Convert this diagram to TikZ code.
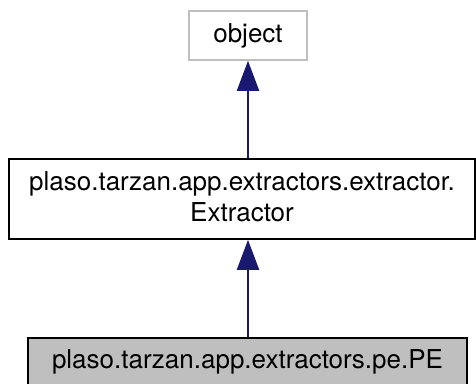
\documentclass[tikz,border=0pt]{standalone}
\usepackage{fontspec}
\setmainfont{TeX Gyre Heros}
\usetikzlibrary{arrows.meta}
\definecolor{edgeblue}{HTML}{191970}
\definecolor{boxgray}{HTML}{BFBFBF}
\begin{document}
\begin{tikzpicture}[x=1pt,y=-1pt,
  cls/.style={draw, line width=1.6pt, inner sep=0pt, font=\fontsize{26}{31}\selectfont, align=center},
  inh/.style={draw=edgeblue, line width=2pt, -{Triangle[width=22pt,length=30pt]}}]
\useasboundingbox (0,0) rectangle (476,383);
\node[cls, draw=boxgray, minimum width=118pt, minimum height=49pt] (obj) at (248,35.5) {object};
\node[cls, minimum width=466pt, minimum height=80pt] (ext) at (242,199) {plaso.tarzan.app.extractors.extractor.\\Extractor\vphantom{p}};
\node[cls, fill=boxgray, minimum width=439pt, minimum height=48pt] (pe) at (247.5,362) {plaso.tarzan.app.extractors.pe.PE};
\draw[inh] (ext.north -| obj.south) -- (obj.south);
\draw[inh] (pe.north -| obj.south) -- (ext.south -| obj.south);
\end{tikzpicture}
\end{document}
